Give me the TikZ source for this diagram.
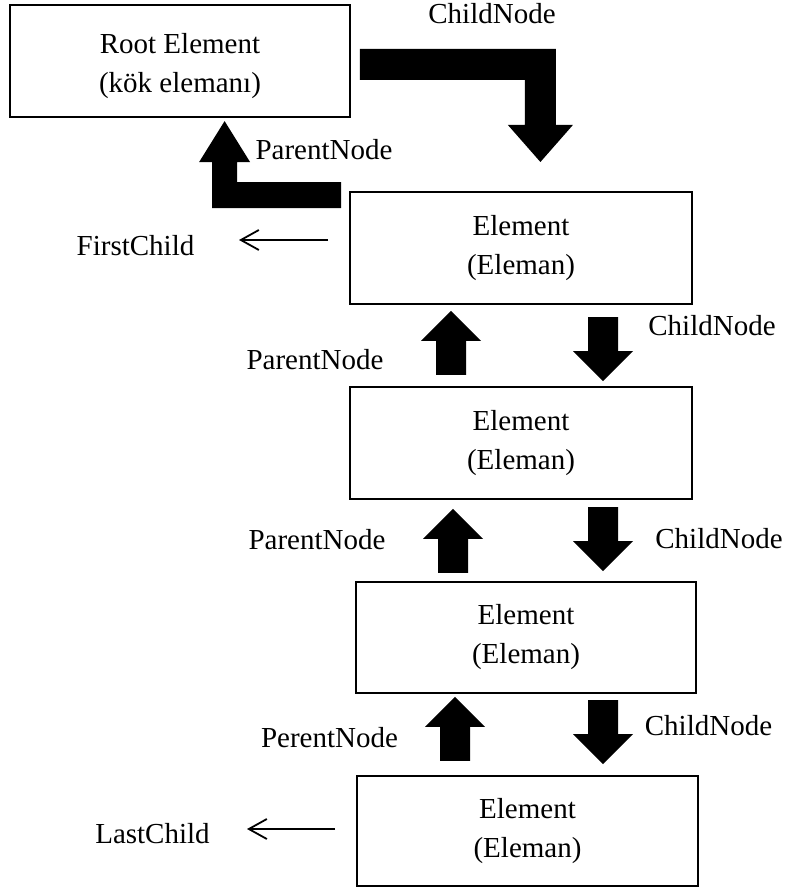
\documentclass[tikz,border=0pt]{standalone}
\usepackage{fontspec}
\setmainfont{Liberation Serif}
\usetikzlibrary{arrows.meta,calc}
\begin{document}
\begin{tikzpicture}[x=1pt,y=-1pt,
  box/.style={draw,line width=1.8pt,rectangle,align=center,inner sep=0pt,font=\fontsize{29}{39}\selectfont},
  lbl/.style={font=\fontsize{29}{35}\selectfont,inner sep=0pt,anchor=base},
  thinarr/.style={line width=1.8pt,-{Straight Barb[length=18pt,width=20pt]}},
  uparr/.pic={\fill (0,0) -- (30,30) -- (15,30) -- (15,64) -- (-15,64) -- (-15,30) -- (-30,30) -- cycle;},
  dnarr/.pic={\fill (0,0) -- (30,-30) -- (15,-30) -- (15,-64) -- (-15,-64) -- (-15,-30) -- (-30,-30) -- cycle;}
]
\useasboundingbox (0,0) rectangle (786,890);

% boxes
\node[box,minimum width=340pt,minimum height=112pt] (root) at (180,61) {\rule{0pt}{31pt}Root Element\\(kök elemanı)};
\node[box,minimum width=342pt,minimum height=112pt] (e1) at (521,248) {Element\\(Eleman)};
\node[box,minimum width=342pt,minimum height=112pt] (e2) at (521,443) {Element\\(Eleman)};
\node[box,minimum width=340pt,minimum height=111pt] (e3) at (526,637.5) {Element\\(Eleman)};
\node[box,minimum width=341pt,minimum height=110pt] (e4) at (527.5,831) {Element\\(Eleman)};

% elbow arrow root -> e1 (ChildNode)
\fill ($(root.east)+(9,-12)$) -- ++(196,0) -- ++(0,76) -- ++(17,0) -- ++(-32.5,37) -- ++(-32.5,-37) -- ++(17,0) -- ++(0,-45) -- ++(-165,0) -- cycle;
% elbow arrow e1 -> root (ParentNode)
\fill ($(e1.north west)+(-8,-9)$) -- ++(0,26) -- ++(-129,0) -- ++(0,-46) -- ++(-13,0) -- ++(25.5,-41) -- ++(25.5,41) -- ++(-13,0) -- ++(0,20) -- cycle;

% block arrows between elements
\path ($(e1.south)+(-70,6)$) pic {uparr};
\path ($(e2.north)+(82,-5)$) pic {dnarr};
\path ($(e2.south)+(-68,9)$) pic {uparr};
\path ($(e3.north)+(77,-10)$) pic {dnarr};
\path ($(e3.south)+(-71,3)$) pic {uparr};
\path ($(e4.north)+(75.5,-11)$) pic {dnarr};

% labels
\node[lbl] (lc1) at (492,24) {ChildNode};
\node[lbl] (lp1) at (324,160) {ParentNode};
\node[lbl] (lfc) at (135.5,256) {FirstChild};
\node[lbl] (lp2) at (315,369) {ParentNode};
\node[lbl] (lc2) at (712,335) {ChildNode};
\node[lbl] (lp3) at (317,549) {ParentNode};
\node[lbl] (lc3) at (719,548) {ChildNode};
\node[lbl] (lp4) at (329.5,747) {PerentNode};
\node[lbl] (lc4) at (708.5,735) {ChildNode};
\node[lbl] (llc) at (152.5,843) {LastChild};

% thin arrows
\coordinate (fcend) at (239,240);
\coordinate (lcend) at (247,829);
\draw[thinarr] ($(e1.west)+(-21,-8)$) -- (fcend);
\draw[thinarr] ($(e4.west)+(-21,-2)$) -- (lcend);
\end{tikzpicture}
\end{document}
